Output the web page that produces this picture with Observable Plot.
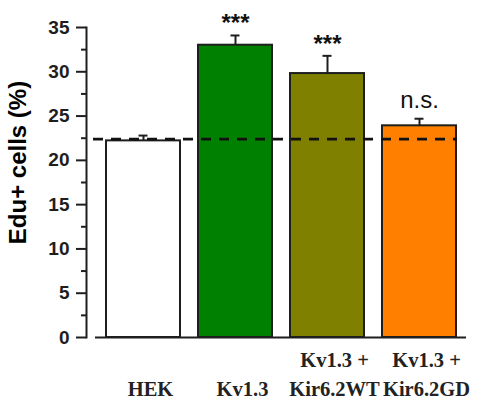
<!DOCTYPE html>
<html><head><meta charset="utf-8">
<script src="https://cdn.jsdelivr.net/npm/d3@7"></script>
<script src="https://cdn.jsdelivr.net/npm/@observablehq/plot@0.6"></script>
<style>body{margin:0;background:#fff}</style>
</head><body><div id="chart"></div>
<script>
const categories = ["HEK", "Kv1.3", "Kv1.3 +\nKir6.2WT", "Kv1.3 +\nKir6.2GD"];
const means = [22.2, 33.0, 29.8, 23.9];
const errors = [0.6, 1.1, 2.0, 0.8];
const significance = ["", "***", "***", "n.s."];
const barColors = ["#ffffff", "#008000", "#808000", "#ff8000"];
const referenceLevel = [22.4];
const yTicks = [0, 5, 10, 15, 20, 25, 30, 35];
const yMinorTicks = [2.5, 7.5, 12.5, 17.5, 22.5, 27.5, 32.5];
const yTitle = "Edu+ cells (%)";

const rows = categories.map((c, i) => ({
  label: c, mean: means[i], top: means[i] + errors[i], sig: significance[i], color: barColors[i]
}));
const ink = "#1e1e1e";

const chart = Plot.plot({
  width: 480, height: 401,
  marginLeft: 86, marginRight: 14, marginTop: 27, marginBottom: 64,
  x: {domain: categories, range: [95.75, 465.75], paddingInner: 0.2, paddingOuter: 0.1, axis: null},
  y: {domain: [0, 35], axis: null},
  color: {type: "identity"},
  style: {fontFamily: "'Liberation Sans', Arial, sans-serif", background: "white", color: ink},
  marks: [
    Plot.barY(rows, {x: "label", y: "mean", fill: "color", stroke: ink, strokeWidth: 2}),
    Plot.ruleX(rows, {x: "label", y1: "mean", y2: "top", stroke: ink, strokeWidth: 2}),
    Plot.tickY(rows, {x: "label", y: "top", stroke: ink, strokeWidth: 2, inset: 32.5}),
    Plot.ruleY([0], {stroke: ink, strokeWidth: 2, insetLeft: 9}),
    Plot.ruleY(referenceLevel, {stroke: "#111", strokeWidth: 2.6, strokeDasharray: "10,8", insetLeft: 7, insetRight: 9}),
    Plot.frame({anchor: "left", stroke: ink, strokeWidth: 2}),
    Plot.axisY({ticks: yTicks, tickSize: 10, tickPadding: 7, strokeWidth: 2, fontSize: 19, fontWeight: "bold", label: null, color: ink}),
    Plot.axisY({ticks: yMinorTicks, tickSize: 5, tickFormat: () => "", strokeWidth: 2, label: null, color: ink}),
    Plot.text([yTitle], {frameAnchor: "left", textAnchor: "middle", text: d => d, rotate: -90, dx: -68, dy: -20, fontSize: 24, fontWeight: "bold", fill: "black", style: "letter-spacing:1.6px"}),
    Plot.text(rows, {x: "label", text: "label", frameAnchor: "bottom", lineAnchor: "bottom", dy: 58, dx: 7,
      fontFamily: "'Liberation Serif', 'DejaVu Serif', serif", fontWeight: "bold", fontSize: 20.5, lineHeight: 1.4, fill: "#222"}),
    Plot.text(rows.filter(d => d.sig.startsWith("*")), {x: "label", y: "top", text: "sig", lineAnchor: "bottom", dy: -4, fontSize: 24, fontWeight: "bold", fill: "#111"}),
    Plot.text(rows.filter(d => d.sig && !d.sig.startsWith("*")), {x: "label", y: "top", text: "sig", lineAnchor: "bottom", dy: -11, fontSize: 24, fill: "#111"})
  ]
});
document.getElementById("chart").appendChild(chart);
</script>
</body></html>
